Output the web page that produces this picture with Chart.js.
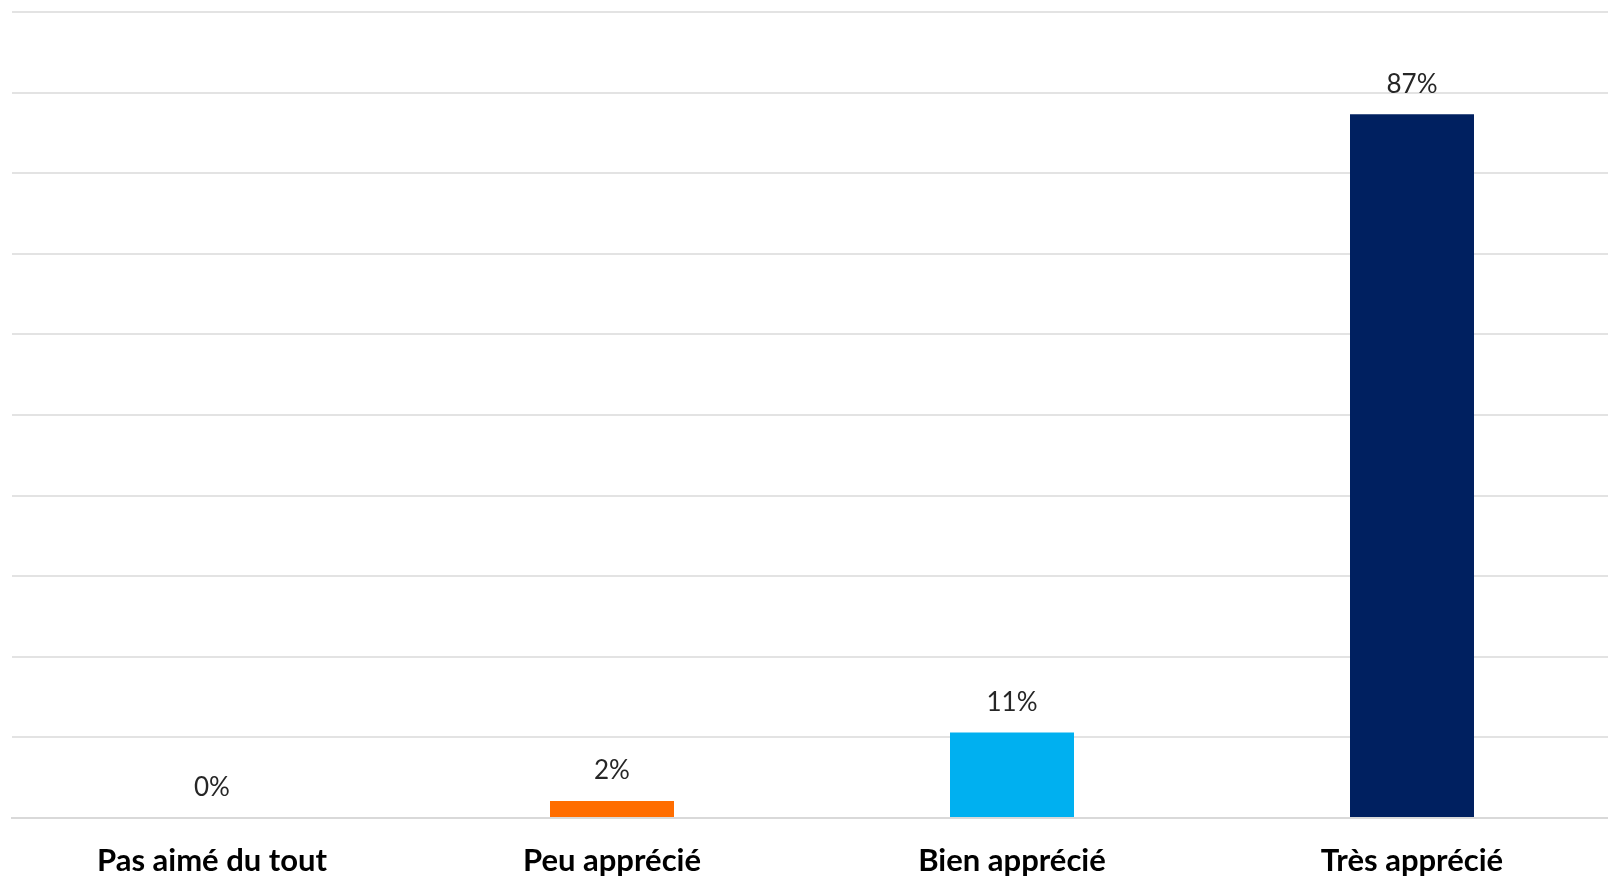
<!DOCTYPE html>
<html>
<head>
<meta charset="utf-8">
<script src="https://cdn.jsdelivr.net/npm/chart.js@4/dist/chart.umd.min.js"></script>
<style>
  html, body { margin: 0; padding: 0; background: #fff; overflow: hidden; }
  canvas { display: block; }
</style>
</head>
<body>
<canvas id="chart" width="1620" height="879"></canvas>
<script>
// Chart data (bar heights, labels show rounded values)
const categories = ['Pas aimé du tout', 'Peu apprécié', 'Bien apprécié', 'Très apprécié'];
const percentages = [0, 2.1, 10.6, 87.3];
const barColors = ['#7f7f7f', '#ff6d00', '#00b0f0', '#002060'];
const yTicks = { min: 0, max: 100, step: 10 };

// Draws the value above each bar
const valueLabels = {
  id: 'valueLabels',
  afterDatasetsDraw(chart) {
    const ctx = chart.ctx;
    const meta = chart.getDatasetMeta(0);
    ctx.save();
    ctx.font = '26px Lato, "Noto Sans", sans-serif';
    ctx.fillStyle = '#262626';
    ctx.textAlign = 'center';
    ctx.textBaseline = 'middle';
    meta.data.forEach((bar, i) => {
      ctx.fillText(Math.round(percentages[i]) + '%', bar.x, bar.y - 30);
    });
    ctx.restore();
  }
};

new Chart(document.getElementById('chart'), {
  type: 'bar',
  data: {
    labels: categories,
    datasets: [{
      data: percentages,
      backgroundColor: barColors,
      barPercentage: 0.31,
      categoryPercentage: 1
    }]
  },
  options: {
    responsive: false,
    animation: false,
    layout: { padding: { left: 12, right: 8, top: 12, bottom: 0 } },
    plugins: {
      legend: { display: false },
      tooltip: { enabled: false }
    },
    scales: {
      x: {
        grid: { display: false },
        border: { display: true, color: '#d9d9d9', width: 2 },
        ticks: {
          color: '#000',
          padding: 16,
          font: { family: 'Lato, "Noto Sans", sans-serif', size: 31, weight: 'bold' }
        },
        // keep the axis band at the same height as the reference
        afterFit(scale) { scale.height = 61; }
      },
      y: {
        min: yTicks.min,
        max: yTicks.max,
        ticks: { display: false, stepSize: yTicks.step },
        border: { display: false },
        grid: { color: '#e3e3e3', lineWidth: 2, drawTicks: false }
      }
    }
  },
  plugins: [valueLabels]
});
</script>
</body>
</html>
